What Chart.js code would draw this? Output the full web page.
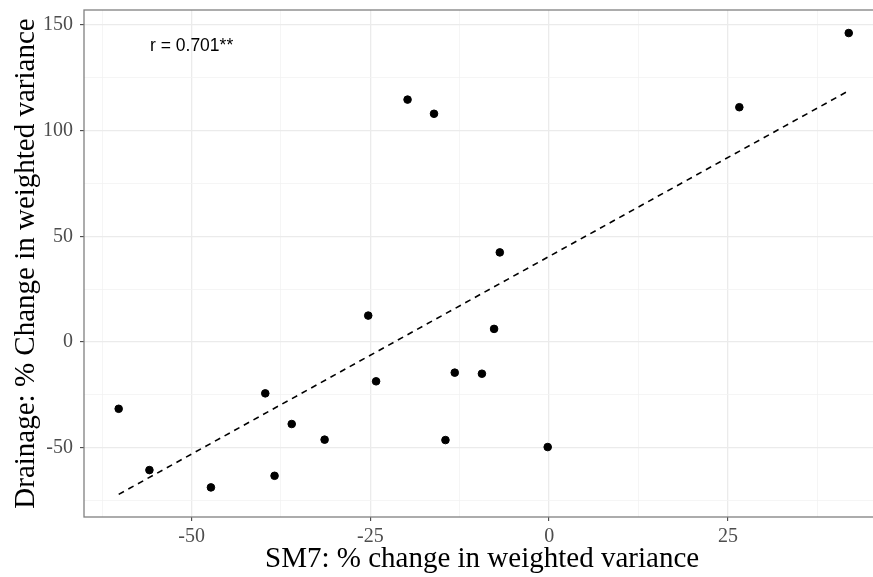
<!DOCTYPE html>
<html>
<head>
<meta charset="utf-8">
<script src="https://cdn.jsdelivr.net/npm/chart.js@4/dist/chart.umd.min.js"></script>
<style>
  html, body { margin: 0; padding: 0; background: #fff; overflow: hidden; }
  #wrap { width: 873px; height: 577px; overflow: hidden; }
  canvas { display: block; }
</style>
</head>
<body>
<!-- the original panel runs past the right edge of the picture, so the canvas is a bit wider and cropped -->
<div id="wrap"><canvas id="myChart" width="885" height="577"></canvas></div>
<script>
// data
const sm7 = [-60.2, -55.9, -47.3, -39.7, -38.4, -36.0, -31.4, -25.3, -24.2, -19.8,
             -16.1, -6.9, -7.7, -13.2, -9.4, -14.5, -0.2, 26.6, 41.9];
const drainage = [-31.6, -60.6, -68.8, -24.3, -63.3, -38.8, -46.2, 12.5, -18.6, 114.7,
                  108.0, 42.4, 6.2, -14.5, -15.0, -46.4, -49.7, 111.1, 146.2];
const fitX = [-60.2, 41.9];
const fitY = [-72.1, 118.9];
const xTicks = [-62.5, -50, -37.5, -25, -12.5, 0, 12.5, 25, 37.5];
const yTicks = [-75, -50, -25, 0, 25, 50, 75, 100, 125, 150];
const xMajor = [-50, -25, 0, 25];
const yMajor = [-50, 0, 50, 100, 150];
const annText = 'r = 0.701**';

const serif = "'Liberation Serif', 'Times New Roman', serif";

const points = sm7.map(function (x, i) { return { x: x, y: drainage[i] }; });
const fitLine = fitX.map(function (x, i) { return { x: x, y: fitY[i] }; });

// box round the panel + r annotation
const extras = {
    id: 'extras',
    afterDatasetsDraw(chart) {
        const ctx = chart.ctx;
        const a = chart.chartArea;
        ctx.save();
        ctx.strokeStyle = '#808080';
        ctx.lineWidth = 1.3;
        ctx.strokeRect(a.left, a.top, a.right - a.left, a.bottom - a.top);
        ctx.fillStyle = '#000';
        ctx.font = "17.5px 'Liberation Sans', Arial, sans-serif";
        ctx.textAlign = 'center';
        ctx.textBaseline = 'middle';
        ctx.fillText(annText, chart.scales.x.getPixelForValue(-50), chart.scales.y.getPixelForValue(140));
        ctx.restore();
    }
};

const myChart = new Chart(document.getElementById('myChart'), {
    type: 'scatter',
    data: {
        datasets: [
            {
                type: 'line',
                data: fitLine,
                borderColor: '#000',
                borderWidth: 1.6,
                borderDash: [6, 5],
                pointRadius: 0,
                fill: false
            },
            {
                data: points,
                backgroundColor: '#000',
                borderColor: '#000',
                pointRadius: 3.8,
                pointHoverRadius: 3.8
            }
        ]
    },
    options: {
        responsive: false,
        animation: false,
        devicePixelRatio: 1,
        layout: { padding: { top: 10, right: 0, left: 0, bottom: 0 } },
        plugins: { legend: { display: false }, tooltip: { enabled: false } },
        scales: {
            x: {
                type: 'linear',
                min: -65.05,
                max: 46.3,
                afterBuildTicks: function (scale) {
                    scale.ticks = xTicks.map(function (v) { return { value: v }; });
                },
                afterFit: function (scale) {
                    scale.height = 60;
                    scale.paddingLeft = 0;
                    scale.paddingRight = 0;
                },
                border: { display: false },
                grid: {
                    color: function (c) { return xMajor.indexOf(c.tick.value) >= 0 ? '#ebebeb' : '#f3f3f3'; },
                    lineWidth: function (c) { return xMajor.indexOf(c.tick.value) >= 0 ? 1.3 : 0.8; },
                    tickColor: function (c) { return xMajor.indexOf(c.tick.value) >= 0 ? '#333' : 'rgba(0,0,0,0)'; },
                    tickLength: 4,
                    tickWidth: 1
                },
                ticks: {
                    autoSkip: false,
                    maxRotation: 0,
                    padding: 4,
                    color: '#4d4d4d',
                    font: { family: serif, size: 20 },
                    callback: function (v) { return xMajor.indexOf(v) >= 0 ? String(v) : ''; }
                },
                title: {
                    display: true,
                    text: 'SM7: % change in weighted variance',
                    color: '#000',
                    font: { family: serif, size: 29 },
                    padding: { top: 0, bottom: 0 }
                }
            },
            y: {
                type: 'linear',
                min: -82.8,
                max: 157.1,
                afterBuildTicks: function (scale) {
                    scale.ticks = yTicks.map(function (v) { return { value: v }; });
                },
                afterFit: function (scale) {
                    scale.width = 84;
                    scale.paddingTop = 0;
                    scale.paddingBottom = 0;
                },
                border: { display: false },
                grid: {
                    color: function (c) { return yMajor.indexOf(c.tick.value) >= 0 ? '#ebebeb' : '#f3f3f3'; },
                    lineWidth: function (c) { return yMajor.indexOf(c.tick.value) >= 0 ? 1.3 : 0.8; },
                    tickColor: function (c) { return yMajor.indexOf(c.tick.value) >= 0 ? '#333' : 'rgba(0,0,0,0)'; },
                    tickLength: 4,
                    tickWidth: 1
                },
                ticks: {
                    autoSkip: false,
                    padding: 7,
                    color: '#4d4d4d',
                    font: { family: serif, size: 20 },
                    callback: function (v) { return yMajor.indexOf(v) >= 0 ? String(v) : ''; }
                },
                title: {
                    display: true,
                    text: 'Drainage: % Change in weighted variance',
                    color: '#000',
                    font: { family: serif, size: 29 },
                    padding: { top: 9, bottom: 0 }
                }
            }
        }
    },
    plugins: [extras]
});
</script>
</body>
</html>
